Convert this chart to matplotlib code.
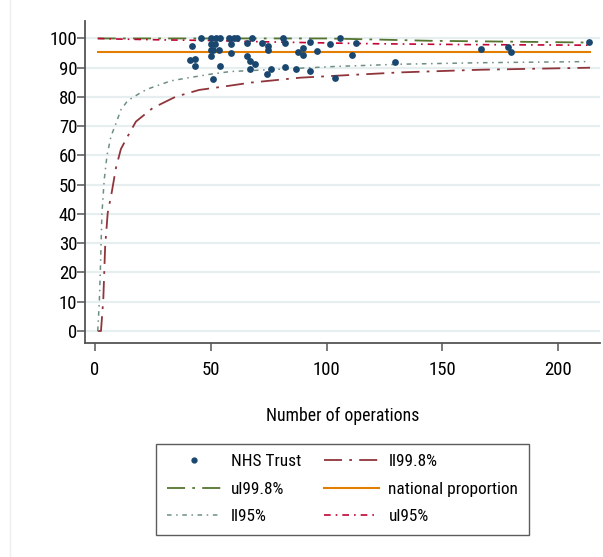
import os
import matplotlib
matplotlib.use('Agg')
import matplotlib.pyplot as plt
from matplotlib import font_manager
from matplotlib.font_manager import FontProperties
from matplotlib.lines import Line2D

# pick a narrow sans font if one is installed
paths = [f.fname for f in font_manager.fontManager.ttflist]
prefs = ['liberationsansnarrow-regular', 'robotocondensed-regular', 'opensans_condensed-regular',
         'opensanscondensed-regular', 'opensans-condensedregular', 'dejavusanscondensed.']
chosen = None
for p in prefs:
    for f in paths:
        if p in os.path.basename(f).lower().replace(' ', ''):
            chosen = f
            break
    if chosen:
        break
plt.rcParams['font.family'] = ['Liberation Sans', 'DejaVu Sans']


def fp(size):
    if chosen:
        return FontProperties(fname=chosen, size=size)
    return FontProperties(family=['Liberation Sans', 'DejaVu Sans'], size=size)


# ---- data ----
trust_n = [41.1, 43.1, 43.1, 42.0, 46.0,
           50.3, 52.2, 54.0, 50.0, 52.0, 50.0, 51.0, 53.4, 50.3, 51.0, 54.0,
           58.0, 60.0, 61.2, 58.9, 58.9,
           65.8, 68.0, 72.0, 65.8, 67.0, 69.0, 67.0,
           74.9, 74.9, 74.1, 76.0,
           81.0, 82.0, 82.0, 87.0, 87.8, 89.9, 89.9, 92.8, 92.8, 96.0,
           101.7, 103.7, 105.8, 110.8, 112.7, 129.7,
           166.7, 178.5, 179.6, 213.5]
trust_pct = [92.7, 93.0, 90.6, 97.5, 100.0,
             100.0, 100.0, 100.0, 98.1, 98.1, 96.1, 96.1, 96.1, 94.0, 86.2, 90.7,
             100.0, 100.0, 100.0, 98.1, 95.0,
             98.5, 100.0, 98.4, 94.0, 92.4, 91.3, 89.5,
             97.5, 96.2, 87.9, 89.5,
             100.0, 98.5, 90.2, 89.6, 95.3, 96.6, 94.4, 98.7, 89.0, 95.8,
             98.1, 86.5, 100.0, 94.4, 98.6, 92.1,
             96.3, 97.0, 95.5, 98.9]

ll998_n = [1.2, 2.6, 3.6, 4.4, 5.5, 7.2, 9.1, 11.2, 14.1, 17.7, 24.9, 34.9, 45.0,
           58.6, 67.2, 88.8, 110.0, 131.9, 166.4, 213.8]
ll998_v = [0.0, 0.0, 10.8, 28.9, 40.3, 47.2, 55.9, 62.2, 66.5, 71.6, 76.2, 80.1, 82.4,
           83.9, 84.9, 86.6, 87.5, 88.4, 89.3, 90.0]

ll95_n = [1.2, 1.9, 2.3, 3.0, 4.0, 5.2, 6.9, 9.1, 11.2, 14.1, 19.8, 22.7, 32.8, 39.2,
          50.0, 58.6, 80.2, 103.0, 131.9, 166.4, 213.8]
ll95_v = [0.0, 10.2, 19.9, 40.0, 51.7, 60.0, 66.5, 71.0, 75.6, 78.7, 81.5, 82.7, 85.5, 86.4,
          87.8, 88.7, 89.5, 90.4, 91.2, 91.7, 92.1]

ul998_n = [1.2, 100.0, 117.5, 144.8, 180.0, 213.8]
ul998_v = [100.0, 100.0, 99.7, 99.2, 98.9, 98.6]

ul95_n = [1.2, 10.0, 30.0, 50.0, 70.0, 90.0, 120.0, 160.0, 213.8]
ul95_v = [100.0, 99.8, 99.5, 99.3, 98.9, 98.6, 98.2, 97.9, 97.7]

nat_n = [1.2, 213.8]
nat_v = [95.2, 95.2]

xticks = [0, 50, 100, 150, 200]
yticks = list(range(0, 101, 10))

# ---- colours (Stata s2color) ----
c_navy = '#1a476f'
c_maroon = '#90353b'
c_green = '#55752f'
c_orange = '#e37e00'
c_teal = '#6e8e84'
c_cran = '#c10534'

fig = plt.figure(figsize=(6.03, 5.57), dpi=100)
fig.patch.set_facecolor('white')
ax = fig.add_axes([85/603, 1-342.7/557, (600-85)/603, (342.7-20.9)/557])
ax.set_xlim(-4.3, 218.1)
ax.set_ylim(-4, 106)

for y in yticks:
    ax.axhline(y, color='#e6eef0', lw=1.6, zorder=0)

ax.plot(ll998_n, ll998_v, color=c_maroon, lw=1.3, dashes=(10, 4, 1.5, 4), zorder=2)
ax.plot(ul998_n, ul998_v, color=c_green, lw=1.3, dashes=(10, 4, 1.5, 4), zorder=2)
ax.plot(nat_n, nat_v, color=c_orange, lw=1.5, zorder=2)
ax.plot(ll95_n, ll95_v, color=c_teal, lw=1.1, dashes=(3, 3, 1, 3), zorder=2)
ax.plot(ul95_n, ul95_v, color=c_cran, lw=1.2, dashes=(4, 3, 1, 3), zorder=2)
ax.scatter(trust_n, trust_pct, s=24, color=c_navy, zorder=3, linewidths=0)

for s in ['top', 'right']:
    ax.spines[s].set_visible(False)
for s in ['left', 'bottom']:
    ax.spines[s].set_color('#555555')
    ax.spines[s].set_linewidth(1.3)

ax.set_xticks(xticks)
ax.set_yticks(yticks)
ax.tick_params(axis='both', colors='#555555', length=6, width=1.1,
               labelcolor='black')
ax.tick_params(axis='y', pad=-0.5)
ax.tick_params(axis='x', pad=7)
for lab in ax.get_xticklabels() + ax.get_yticklabels():
    lab.set_fontproperties(fp(13.5))
ax.set_xlabel('Number of operations', fontproperties=fp(12.8), labelpad=20)

handles = [
    Line2D([], [], marker='o', ls='none', color=c_navy, markersize=3.5),
    Line2D([], [], color=c_green, lw=1.3, dashes=(10, 4, 1.5, 4)),
    Line2D([], [], color=c_teal, lw=1.1, dashes=(3, 3, 1, 3)),
    Line2D([], [], color=c_maroon, lw=1.3, dashes=(10, 4, 1.5, 4)),
    Line2D([], [], color=c_orange, lw=1.5),
    Line2D([], [], color=c_cran, lw=1.2, dashes=(4, 3, 1, 3)),
]
labels = ['NHS Trust', 'ul99.8%', 'll95%', 'll99.8%', 'national proportion', 'ul95%']
leg = fig.legend(handles, labels, ncol=2, loc='upper center',
                 bbox_to_anchor=(342.5/603, 1-444/557), prop=fp(12.4),
                 frameon=True, fancybox=False, edgecolor='#333333',
                 handlelength=3.2, handletextpad=0.55, columnspacing=1.3,
                 labelspacing=0.72, borderpad=0.6, borderaxespad=0)
leg.get_frame().set_linewidth(1.0)

fig.add_artist(Line2D([10/603, 10/603], [0, 1], transform=fig.transFigure,
                      color='#eeeeee', lw=1))

fig.savefig('out.png', dpi=100, facecolor='white')
